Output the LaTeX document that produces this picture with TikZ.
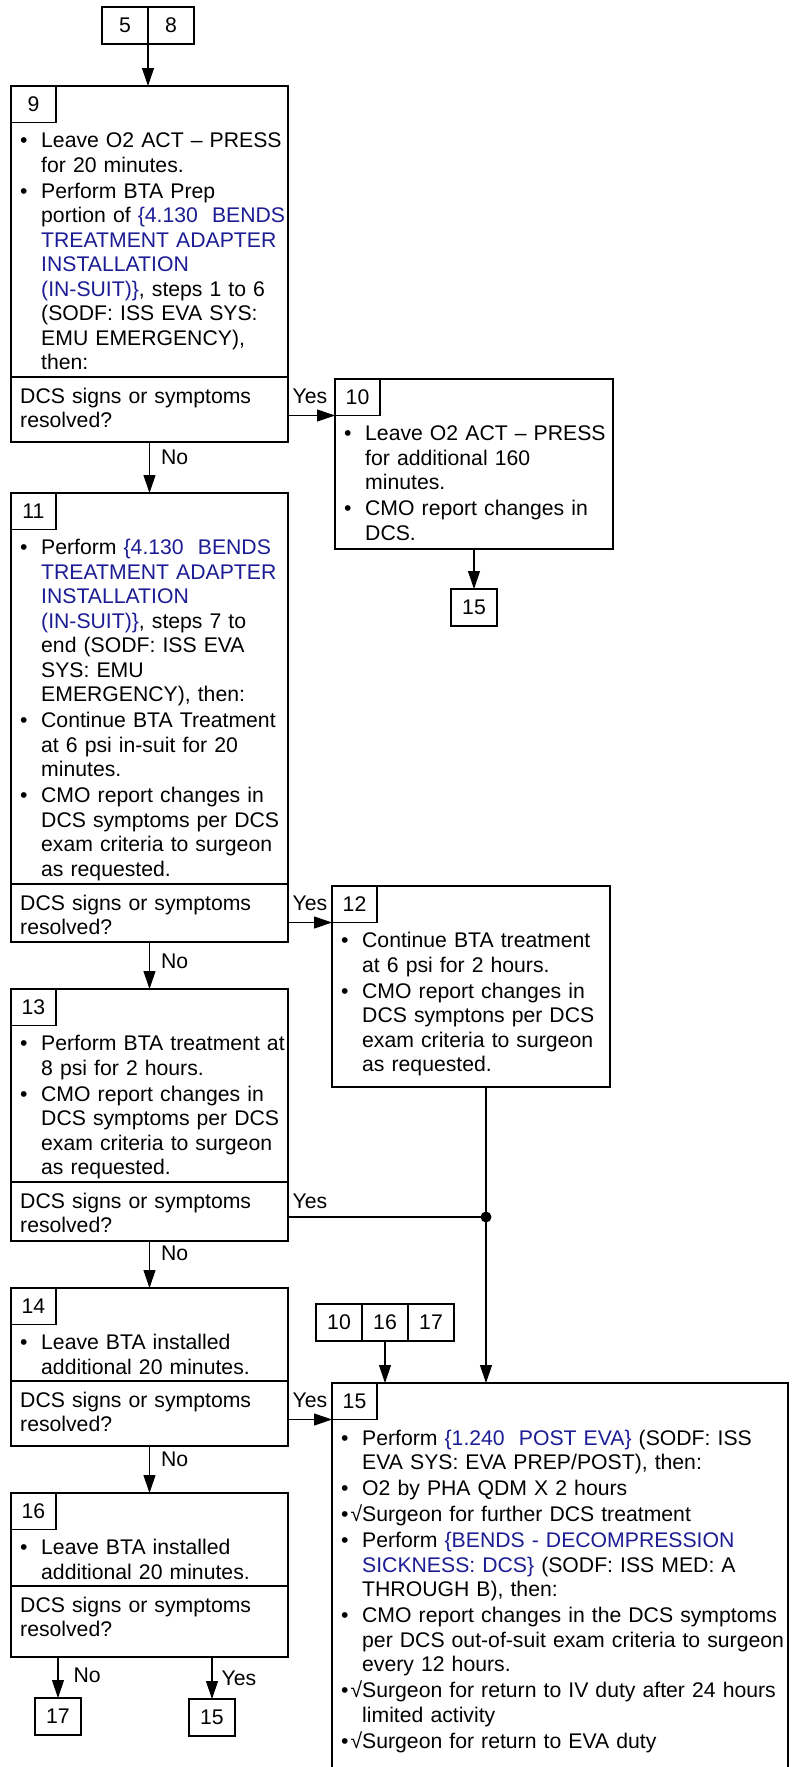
\documentclass[tikz,border=0pt]{standalone}
\usepackage{fontspec}
\setmainfont{Liberation Sans}
\usetikzlibrary{arrows.meta,positioning}
\definecolor{linkblue}{RGB}{28,28,148}
\newcommand{\dcsfont}{\fontsize{21.2pt}{24.5pt}\selectfont}
\newcommand{\fitem}{\setlength{\parskip}{1.5pt}\hangindent=21pt\hangafter=1\noindent\makebox[21pt][l]{•}}
\newcommand{\bitem}{\par\setlength{\parskip}{1.5pt}\hangindent=21pt\hangafter=1\noindent\makebox[21pt][l]{•}}
\newcommand{\citem}{\par\setlength{\parskip}{1.5pt}\hangindent=21pt\hangafter=1\noindent\makebox[21pt][l]{•\hfill√}}
\newcommand{\lnk}[1]{\textcolor{linkblue}{#1}}

\begin{document}
\begin{tikzpicture}[x=1pt,y=-1pt,
  stepbox/.style={draw,line width=1.8pt,anchor=north west,inner sep=0pt,outer sep=0pt},
  numbox/.style={draw,line width=1.1pt,anchor=north west,minimum width=45pt,minimum height=36.5pt,inner sep=0pt,outer sep=0pt,font=\dcsfont},
  refbox/.style={draw,line width=1.1pt,minimum width=46pt,minimum height=37pt,inner sep=0pt,outer sep=0pt,font=\dcsfont},
  steptext/.style={anchor=base west,inner sep=0pt,text width=#1,align=left,font=\dcsfont},
  steptext/.default=300pt,
  asktext/.style={anchor=base west,inner sep=0pt,text width=270pt,align=left,font=\dcsfont},
  lbl/.style={inner sep=0pt,font=\dcsfont},
  nolbl/.style={lbl,anchor=west,xshift=11pt,pos=0.3},
  divline/.style={line width=1.8pt},
  arr/.style={-{Triangle[length=18pt,width=12pt]},line width=1.1pt},
  joinline/.style={line width=1.1pt}]
\useasboundingbox (0,0) rectangle (792,1767);
\clip (0,0) rectangle (792,1767);
\coordinate (d9) at (0,377);
\coordinate (d11) at (0,884);
\coordinate (d13) at (0,1182);
\coordinate (d14) at (0,1381);
\coordinate (d16) at (0,1586);
\coordinate (j) at (486,1217);

\node[refbox,anchor=north east] (r5) at (148,7) {5};
\node[refbox,right=0pt of r5] (r8) {8};

\node[stepbox,minimum width=277pt,minimum height=356pt] (b9) at (11,86) {};
\node[numbox] (n9) at (b9.north west) {9};
\node[steptext] (t9) at ([shift={(9,61.5)}]b9.north west) {%
\fitem Leave O2 ACT – PRESS\newline for 20 minutes.
\bitem Perform BTA Prep\newline portion of \lnk{\{4.130\ \ BENDS\newline TREATMENT ADAPTER\newline INSTALLATION\newline (IN-SUIT)\}}, steps 1 to 6\newline (SODF: ISS EVA SYS:\newline EMU EMERGENCY),\newline then:\par};
\draw[divline] (b9.west |- d9) -- (b9.east |- d9);
\node[asktext] (q9) at ([shift={(9,26)}]b9.west |- d9) {DCS signs or symptoms\newline resolved?};

\node[stepbox,minimum width=278pt,minimum height=170pt] (b10) at (335,379) {};
\node[numbox] (n10) at (b10.north west) {10};
\node[steptext] (t10) at ([shift={(9,61.5)}]b10.north west) {%
\fitem Leave O2 ACT – PRESS\newline for additional 160\newline minutes.
\bitem CMO report changes in\newline DCS.\par};
\node[refbox,below=40pt of b10] (r15a) {15};

\node[stepbox,minimum width=277pt,minimum height=449pt] (b11) at (11,493) {};
\node[numbox] (n11) at (b11.north west) {11};
\node[steptext] (t11) at ([shift={(9,61.5)}]b11.north west) {%
\fitem Perform \lnk{\{4.130\ \ BENDS\newline TREATMENT ADAPTER\newline INSTALLATION\newline (IN-SUIT)\}}, steps 7 to\newline end (SODF: ISS EVA\newline SYS: EMU\newline EMERGENCY), then:
\bitem Continue BTA Treatment\newline at 6 psi in-suit for 20\newline minutes.
\bitem CMO report changes in\newline DCS symptoms per DCS\newline exam criteria to surgeon\newline as requested.\par};
\draw[divline] (b11.west |- d11) -- (b11.east |- d11);
\node[asktext] (q11) at ([shift={(9,26)}]b11.west |- d11) {DCS signs or symptoms\newline resolved?};

\node[stepbox,minimum width=278pt,minimum height=201pt] (b12) at (332,886) {};
\node[numbox] (n12) at (b12.north west) {12};
\node[steptext] (t12) at ([shift={(9,61.5)}]b12.north west) {%
\fitem Continue BTA treatment\newline at 6 psi for 2 hours.
\bitem CMO report changes in\newline DCS symptons per DCS\newline exam criteria to surgeon\newline as requested.\par};

\node[stepbox,minimum width=277pt,minimum height=252pt] (b13) at (11,989) {};
\node[numbox] (n13) at (b13.north west) {13};
\node[steptext] (t13) at ([shift={(9,61.5)}]b13.north west) {%
\fitem Perform BTA treatment at\newline 8 psi for 2 hours.
\bitem CMO report changes in\newline DCS symptoms per DCS\newline exam criteria to surgeon\newline as requested.\par};
\draw[divline] (b13.west |- d13) -- (b13.east |- d13);
\node[asktext] (q13) at ([shift={(9,26)}]b13.west |- d13) {DCS signs or symptoms\newline resolved?};

\node[stepbox,minimum width=277pt,minimum height=158pt] (b14) at (11,1288) {};
\node[numbox] (n14) at (b14.north west) {14};
\node[steptext] (t14) at ([shift={(9,61.5)}]b14.north west) {%
\fitem Leave BTA installed\newline additional 20 minutes.\par};
\draw[divline] (b14.west |- d14) -- (b14.east |- d14);
\node[asktext] (q14) at ([shift={(9,26)}]b14.west |- d14) {DCS signs or symptoms\newline resolved?};

\node[refbox,anchor=north west] (r10b) at (316,1304) {10};
\node[refbox,right=0pt of r10b] (r16b) {16};
\node[refbox,right=0pt of r16b] (r17b) {17};

\node[stepbox,minimum width=456pt,minimum height=420pt] (b15) at (332,1383) {};
\node[numbox] (n15) at (b15.north west) {15};
\node[steptext=460pt] (t15) at ([shift={(9,62)}]b15.north west) {%
\fitem Perform \lnk{\{1.240\ \ POST EVA\}} (SODF: ISS\newline EVA SYS: EVA PREP/POST), then:
\bitem O2 by PHA QDM X 2 hours
\citem Surgeon for further DCS treatment
\bitem Perform \lnk{\{BENDS - DECOMPRESSION\newline SICKNESS: DCS\}} (SODF: ISS MED: A\newline THROUGH B), then:
\bitem CMO report changes in the DCS symptoms\newline per DCS out-of-suit exam criteria to surgeon\newline every 12 hours.
\citem Surgeon for return to IV duty after 24 hours\newline limited activity
\citem Surgeon for return to EVA duty\par};

\node[stepbox,minimum width=277pt,minimum height=164pt] (b16) at (11,1493) {};
\node[numbox] (n16) at (b16.north west) {16};
\node[steptext] (t16) at ([shift={(9,61.5)}]b16.north west) {%
\fitem Leave BTA installed\newline additional 20 minutes.\par};
\draw[divline] (b16.west |- d16) -- (b16.east |- d16);
\node[asktext] (q16) at ([shift={(9,26)}]b16.west |- d16) {DCS signs or symptoms\newline resolved?};

\node[refbox,anchor=north] (r17c) at (58,1698) {17};
\node[refbox,anchor=north] (r15c) at (212,1699) {15};

\draw[arr] (r5.south east) -- (r5.south east |- b9.north);
\draw[arr] (b9.south) -- node[nolbl] {No} (b11.north);
\draw[arr] (b9.east |- n10.south) -- (n10.south west);
\node[lbl,anchor=base west,xshift=4.5pt] (y9) at (b9.east |- q9.base) {Yes};
\draw[arr] (b10.south) -- (r15a.north);
\draw[arr] (b11.south) -- node[nolbl,pos=0.4] {No} (b13.north);
\draw[arr] (b11.east |- n12.south) -- (n12.south west);
\node[lbl,anchor=base west,xshift=4.5pt] (y11) at (b11.east |- q11.base) {Yes};
\draw[joinline] (b12.south -| j) -- (j);
\draw[joinline] (b13.east |- j) -- (j);
\fill (j) circle[radius=5.5pt];
\node[lbl,anchor=base west,xshift=4.5pt] (y13) at (b13.east |- q13.base) {Yes};
\draw[arr] (j) -- (j |- b15.north);
\draw[arr] (b13.south) -- node[nolbl,pos=0.27] {No} (b14.north);
\draw[arr] (b14.east |- n15.south) -- (n15.south west);
\node[lbl,anchor=base west,xshift=4.5pt] (y14) at (b14.east |- q14.base) {Yes};
\draw[arr] (r16b.south) -- (r16b.south |- b15.north);
\draw[arr] (b14.south) -- node[nolbl,pos=0.28] {No} (b16.north);
\draw[arr] (b16.south -| r17c) -- node[nolbl,pos=0.44,xshift=4pt] {No} (r17c.north);
\draw[arr] (b16.south -| r15c) -- node[nolbl,pos=0.5,xshift=-2pt] {Yes} (r15c.north);
\end{tikzpicture}
\end{document}
